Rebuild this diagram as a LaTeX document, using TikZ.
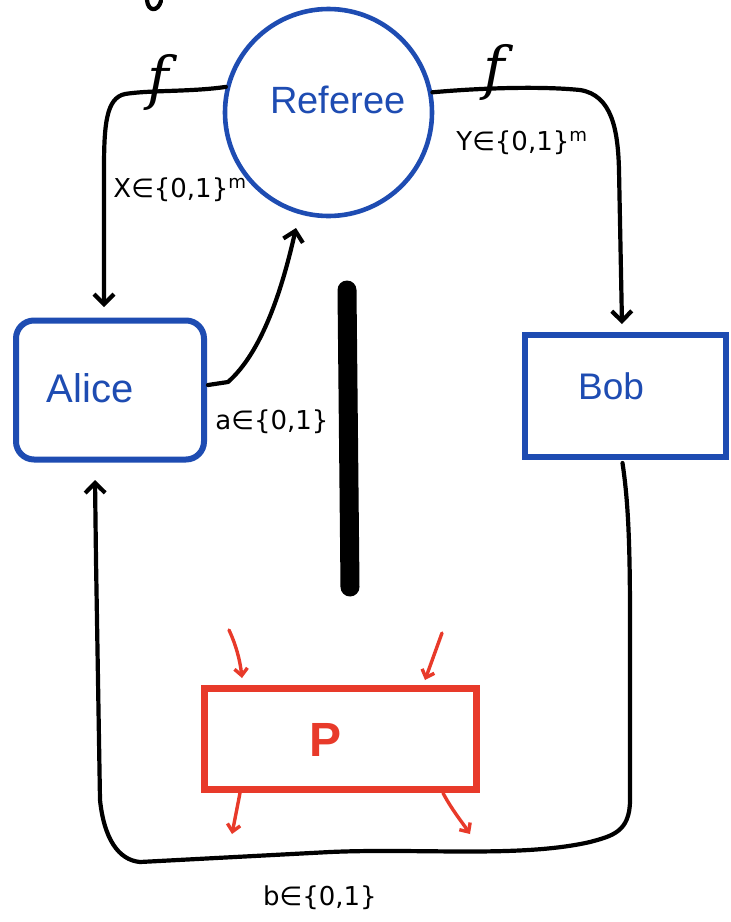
\documentclass[tikz,border=0pt]{standalone}
\usepackage{fontspec}
\setmainfont{Liberation Sans}
\newfontfamily\labfont{DejaVu Sans}
\newfontfamily\ffont{DejaVu Serif}
\usetikzlibrary{arrows.meta}
\definecolor{blueC}{HTML}{1E4CB2}
\definecolor{redC}{HTML}{E83A2A}
\tikzset{
  wire/.style={line width=4.2pt, line cap=round, line join=round},
  arr/.style={-{Straight Barb[length=10pt,width=20pt,line width=4.2pt]}},
  redarr/.style={draw=redC, line width=3.4pt, line cap=round, -{Straight Barb[length=7pt,width=13pt,line width=3.4pt]}},
  bluebox/.style={draw=blueC, line width=6pt},
  nametext/.style={text=blueC, font=\fontsize{37}{40}\selectfont},
  lab/.style={font=\labfont\fontsize{26}{28}\selectfont, inner sep=0pt},
  flab/.style={font=\ffont\itshape\fontsize{58}{60}\selectfont, inner sep=0pt}
}
\begin{document}
\begin{tikzpicture}[x=1pt,y=-1pt]
\useasboundingbox[fill=white] (0,0) rectangle (731,922);

% nodes
\node[circle, draw=blueC, line width=4.6pt, minimum size=207pt, inner sep=0pt] (ref) at (328.5,112.5) {};
\node[nametext, font=\fontsize{38}{42}\selectfont] (reft) at (338,100) {Referee};
\node[bluebox, rounded corners=18pt, minimum width=188pt, minimum height=139pt, inner sep=0pt] (alice) at (110,390) {};
\node[nametext, font=\fontsize{40}{44}\selectfont] (alicet) at (90,388) {Alice};
\node[bluebox, minimum width=201pt, minimum height=122pt, inner sep=0pt] (bob) at (625.5,396) {};
\node[nametext] (bobt) at (611,386) {Bob};
\node[draw=redC, line width=6.5pt, minimum width=272pt, minimum height=101pt, inner sep=0pt] (p) at (340.5,739) {};
\node[text=redC, font=\bfseries\fontsize{48}{50}\selectfont] (pt) at (326,740) {P};

% coordinates for free ends
\coordinate (ain) at (104,307);
\coordinate (bin) at (622,324);
\coordinate (refin) at (296,228);
\coordinate (aout) at (95,480);

% connectors
\draw[wire, arr] (ref.166) .. controls (190,92) and (150,90) .. (125,94) .. controls (106,98) and (104,125) .. (104,170) -- (ain);
\draw[wire, arr] (ref.11) .. controls (480,88) and (540,86) .. (580,90) .. controls (612,95) and (618,130) .. (619,170) -- (bin);
\draw[wire, arr] (alice.east) ++(1,-5) coordinate (aeast) -- (228,382) .. controls (262,352) and (282,290) .. (refin);
\draw[wire, arr] (bob.south) ++(-3,3) coordinate (bsouth) .. controls (628,500) and (630,540) .. (630,620) -- (630,800) .. controls (630,832) and (612,836) .. (590,842) .. controls (520,858) and (420,848) .. (330,852) -- (140,862) .. controls (118,860) and (104,838) .. (100,800) -- (96,560) -- (aout);

% thick bar
\draw[line width=19pt, line cap=round] (347,290) -- (350,587);

% red arrows
\draw[redarr] (229,630) .. controls (236,645) and (240,660) .. (242,678);
\draw[redarr] (442,633) -- (425,680);
\draw[redarr] (240,793) -- (232,834);
\draw[redarr] (443,793) .. controls (452,810) and (462,822) .. (470,834);

% labels
\node[flab] (f1) at (158,82) {f};
\node[flab] (f2) at (494,72) {f};
\node[lab] (xl) at (180,190) {X∈\{0,1\}\textsuperscript{m}};
\node[lab] (yl) at (522,143) {Y∈\{0,1\}\textsuperscript{m}};
\node[lab] (al) at (272,422) {a∈\{0,1\}};
\node[lab] (bl) at (320,898) {b∈\{0,1\}};

% partial stroke at top edge
\draw[wire] (147,0) .. controls (148,12) and (158,12) .. (161,1);
\end{tikzpicture}
\end{document}
